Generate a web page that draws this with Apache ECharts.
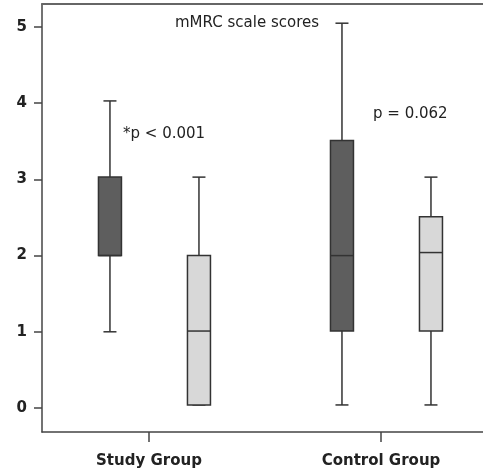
<!DOCTYPE html>
<html><head><meta charset="utf-8">
<script src="https://cdn.jsdelivr.net/npm/echarts@6/dist/echarts.min.js"></script>
<style>html,body{margin:0;padding:0;background:#fff}#c{width:483px;height:472px}</style>
</head><body><div id="c"></div>
<script>
// ---- data ----
const categories = ['Study Group', 'Control Group'];
// [min, Q1, median, Q3, max] per group
const darkBoxes  = [[1.00, 2.00, 2.00, 3.03, 4.03], [0.04, 1.01, 2.00, 3.51, 5.05]];
const lightBoxes = [[0.04, 0.04, 1.01, 2.00, 3.03], [0.04, 1.01, 2.04, 2.51, 3.03]];
const yTicks = [0, 1, 2, 3, 4, 5];
const titleText = 'mMRC scale scores';
const pTexts = ['*p < 0.001', 'p = 0.062'];

const FONT = '"DejaVu Sans", sans-serif';
const chart = echarts.init(document.getElementById('c'));

function boxRender(offsetPx, fill) {
  return function (params, api) {
    const g = api.value(0);
    const mn = api.value(1), q1 = api.value(2), md = api.value(3), q3 = api.value(4), mx = api.value(5);
    const cx = api.coord([g, 0])[0] + offsetPx;
    const y = v => api.coord([g, v])[1];
    const bw = 23, cw = 13;
    const ls = { stroke: '#333', lineWidth: 1.5 };
    return {
      type: 'group',
      children: [
        { type: 'line', shape: { x1: cx, y1: y(mn), x2: cx, y2: y(q1) }, style: ls },
        { type: 'line', shape: { x1: cx, y1: y(q3), x2: cx, y2: y(mx) }, style: ls },
        { type: 'line', shape: { x1: cx - cw / 2, y1: y(mn), x2: cx + cw / 2, y2: y(mn) }, style: ls },
        { type: 'line', shape: { x1: cx - cw / 2, y1: y(mx), x2: cx + cw / 2, y2: y(mx) }, style: ls },
        { type: 'rect', shape: { x: cx - bw / 2, y: y(q3), width: bw, height: y(q1) - y(q3) },
          style: { fill: fill, stroke: '#333', lineWidth: 1.5 } },
        { type: 'line', shape: { x1: cx - bw / 2, y1: y(md), x2: cx + bw / 2, y2: y(md) }, style: ls }
      ]
    };
  };
}

const toData = arr => arr.map((b, i) => [i].concat(b));

chart.setOption({
  animation: false,
  grid: { left: 42, right: -4, top: 4, bottom: 40, outerBoundsMode: 'none' },
  xAxis: [{
    type: 'value', min: -0.461, max: 1.457,
    splitLine: { show: false },
    axisLine: { show: true, onZero: false, lineStyle: { color: '#444', width: 1.5 } },
    axisTick: { show: true, customValues: [0, 1], length: 10, lineStyle: { color: '#444', width: 1.5 } },
    axisLabel: { customValues: [0, 1], formatter: v => categories[Math.round(v)],
      fontFamily: FONT, fontWeight: 'bold', fontSize: 15, color: '#222', margin: 22 }
  }, {
    type: 'value', position: 'top', min: -0.461, max: 1.457,
    splitLine: { show: false },
    axisLine: { show: true, onZero: false, lineStyle: { color: '#666', width: 2 } },
    axisTick: { show: false }, axisLabel: { show: false }
  }],
  yAxis: {
    type: 'value', min: -0.315, max: 5.302,
    splitLine: { show: false },
    axisLine: { show: true, onZero: false, lineStyle: { color: '#444', width: 1.5 } },
    axisTick: { show: true, customValues: yTicks, length: 8, lineStyle: { color: '#444', width: 1.5 } },
    axisLabel: { customValues: yTicks, fontFamily: FONT, fontWeight: 'bold', fontSize: 15, color: '#222', margin: 15 }
  },
  graphic: [
    { type: 'text', left: 175, top: 16, style: { text: titleText, font: '15px ' + FONT, fill: '#222' } },
    { type: 'text', left: 123, top: 127, style: { text: pTexts[0], font: '15px ' + FONT, fill: '#222' } },
    { type: 'text', left: 373, top: 107, style: { text: pTexts[1], font: '15px ' + FONT, fill: '#222' } },
    { type: 'rect', left: 477, top: 6, z: 100, shape: { width: 8, height: 424 }, style: { fill: '#fff' } }
  ],
  series: [
    { type: 'custom', xAxisIndex: 0, renderItem: boxRender(-39, '#5e5e5e'), data: toData(darkBoxes),
      encode: { x: 0, y: [1, 2, 3, 4, 5] } },
    { type: 'custom', xAxisIndex: 0, renderItem: boxRender(50, '#d8d8d8'), data: toData(lightBoxes),
      encode: { x: 0, y: [1, 2, 3, 4, 5] } }
  ]
});
</script></body></html>
